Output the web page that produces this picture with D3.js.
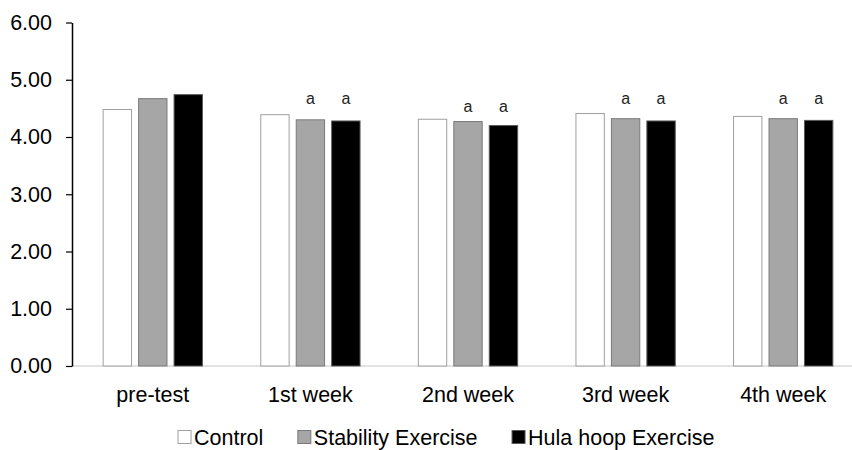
<!DOCTYPE html>
<html>
<head>
<meta charset="utf-8">
<script src="https://cdn.jsdelivr.net/npm/d3@7"></script>
<style>
  body { margin: 0; background: #fff; }
  svg { font-family: "Liberation Sans", Arial, sans-serif; }
</style>
</head>
<body>
<div id="chart"></div>
<script>
var width = 852;
var height = 450;

// data
var categories = ["pre-test", "1st week", "2nd week", "3rd week", "4th week"];
var series = ["Control", "Stability Exercise", "Hula hoop Exercise"];
var control = [4.48, 4.39, 4.31, 4.41, 4.36];
var stability = [4.67, 4.30, 4.27, 4.32, 4.32];
var hulahoop = [4.74, 4.28, 4.20, 4.28, 4.29];
// significance mark "a" (stability and hula hoop bars), with its height in axis units
var markText = ["", "a", "a", "a", "a"];
var markLevel = [0, 4.68, 4.54, 4.68, 4.68];
var yTicks = [0, 1, 2, 3, 4, 5, 6];

var fills = ["#ffffff", "#a6a6a6", "#000000"];
var strokes = ["#a0a0a0", "#7a7a7a", "#595959"];
var fontSize = "21.5px";

var data = categories.map(function(c, i) {
  return { cat: c, values: [control[i], stability[i], hulahoop[i]], mark: markText[i], level: markLevel[i] };
});

var svg = d3.select("#chart")
    .append("svg")
    .attr("width", width)
    .attr("height", height);

var x0 = d3.scaleBand()
    .domain(categories)
    .range([74, 862])
    .paddingInner(0.37)
    .paddingOuter(0.185);

var x1 = d3.scaleBand()
    .domain(d3.range(series.length))
    .range([0, x0.bandwidth()])
    .paddingInner(0.2);

var y = d3.scaleLinear()
    .domain([0, 6])
    .range([366, 22.5]);

// bottom baseline
svg.append("line")
    .attr("x1", 72)
    .attr("x2", width)
    .attr("y1", y(0))
    .attr("y2", y(0))
    .attr("stroke", "#d9d9d9")
    .attr("stroke-width", 1.5);

var groups = svg.selectAll(".group")
    .data(data)
    .enter().append("g")
      .attr("class", "group")
      .attr("transform", function(d) { return "translate(" + x0(d.cat) + ",0)"; });

groups.selectAll("rect")
    .data(function(d) { return d.values; })
    .enter().append("rect")
      .attr("x", function(d, i) { return x1(i); })
      .attr("y", function(d) { return y(d); })
      .attr("width", x1.bandwidth())
      .attr("height", function(d) { return y(0) - y(d); })
      .attr("fill", function(d, i) { return fills[i]; })
      .attr("stroke", function(d, i) { return strokes[i]; })
      .attr("stroke-width", 1);

groups.each(function(d) {
  if (!d.mark) return;
  var g = d3.select(this);
  [1, 2].forEach(function(i) {
    g.append("text")
      .attr("x", x1(i) + x1.bandwidth() / 2)
      .attr("y", y(d.level))
      .attr("dy", "0.35em")
      .attr("text-anchor", "middle")
      .attr("font-size", "16px")
      .attr("fill", "#222")
      .text(d.mark);
  });
});

// y axis
var yAxis = svg.append("g")
    .attr("transform", "translate(72,0)")
    .call(d3.axisLeft(y).tickValues(yTicks).tickFormat(d3.format(".2f")).tickSize(6).tickSizeOuter(0).tickPadding(14));

yAxis.select(".domain").attr("stroke", "#000").attr("stroke-width", 1.5);
yAxis.selectAll(".tick line").attr("stroke", "#000").attr("stroke-width", 1.2);
yAxis.selectAll(".tick text")
    .attr("font-size", fontSize)
    .attr("font-family", "Liberation Sans, Arial, sans-serif")
    .attr("fill", "#000");

// category labels
svg.selectAll(".cat")
    .data(categories)
    .enter().append("text")
      .attr("class", "cat")
      .attr("x", function(d) { return x0(d) + x0.bandwidth() / 2; })
      .attr("y", 394)
      .attr("dy", "0.35em")
      .attr("text-anchor", "middle")
      .attr("font-size", fontSize)
      .attr("fill", "#000")
      .text(function(d) { return d; });

// legend
var legend = svg.append("g").attr("class", "legend");
var lx = 0;
series.forEach(function(s, i) {
  var item = legend.append("g").attr("transform", "translate(" + lx + ",0)");
  item.append("rect")
      .attr("x", 0.5)
      .attr("y", -6.5)
      .attr("width", 13)
      .attr("height", 13)
      .attr("fill", fills[i])
      .attr("stroke", strokes[i]);
  var t = item.append("text")
      .attr("x", 16.5)
      .attr("y", 0)
      .attr("dy", "0.35em")
      .attr("font-size", fontSize)
      .attr("fill", "#000")
      .text(s);
  lx += 16.5 + t.node().getComputedTextLength() + 34;
});
lx -= 34;
legend.attr("transform", "translate(" + (446 - lx / 2) + ",437)");
</script>
</body>
</html>
